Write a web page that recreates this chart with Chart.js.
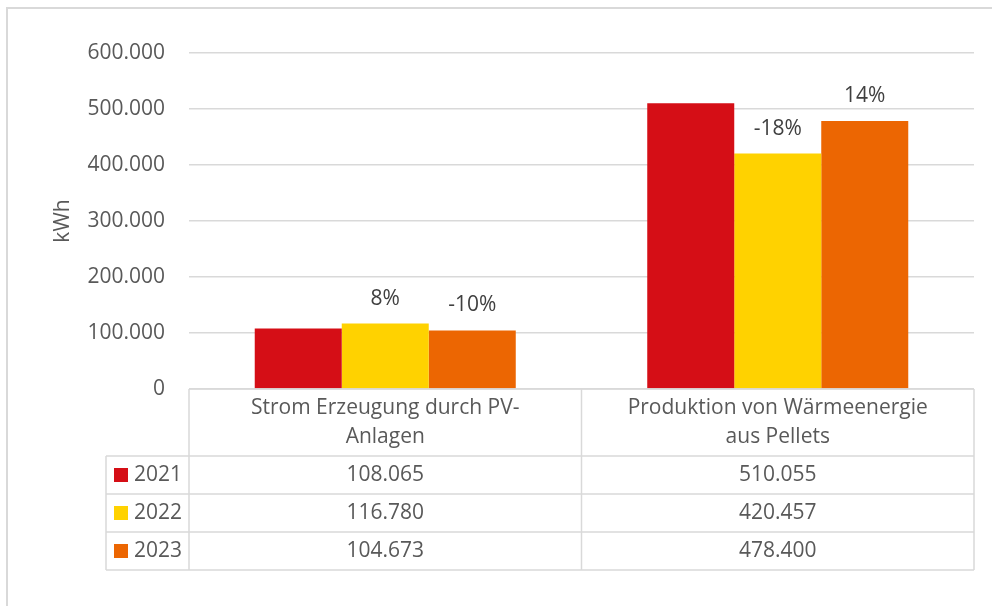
<!DOCTYPE html>
<html>
<head>
<meta charset="utf-8">
<script src="https://cdn.jsdelivr.net/npm/chart.js@4"></script>
<style>
  html, body { margin: 0; padding: 0; background: #fff; }
  #wrap { width: 992px; height: 606px; }
</style>
</head>
<body>
<div id="wrap"><canvas id="energyChart"></canvas></div>
<script>
// Data
const categories = [
    ["Strom Erzeugung durch PV-", "Anlagen"],
    ["Produktion von Wärmeenergie", "aus Pellets"]
];
const years = ["2021", "2022", "2023"];
const values2021 = [108065, 510055];
const values2022 = [116780, 420457];
const values2023 = [104673, 478400];
const changes2021 = ["", ""];
const changes2022 = ["8%", "-18%"];
const changes2023 = ["-10%", "14%"];
const yMax = 600000;
const yStep = 100000;

const colors = ["#d50e16", "#ffd200", "#ec6602"];
const textColor = "#595959";
const lineColor = "#d9d9d9";
const fontFamily = "'Open Sans', sans-serif";
const fontSize = 21;

const series = [values2021, values2022, values2023];
const changes = [changes2021, changes2022, changes2023];

function formatDe(n) {
    return String(n).replace(/\B(?=(\d{3})+(?!\d))/g, ".");
}

// outer frame of the chart
const framePlugin = {
    id: "frame",
    beforeDraw(chart) {
        const ctx = chart.ctx;
        ctx.save();
        ctx.strokeStyle = lineColor;
        ctx.lineWidth = 2;
        ctx.beginPath();
        ctx.moveTo(7, chart.height + 5);
        ctx.lineTo(7, 8);
        ctx.lineTo(chart.width + 5, 8);
        ctx.stroke();
        ctx.restore();
    }
};

// percent change labels above bars
const changeLabels = {
    id: "changeLabels",
    afterDatasetsDraw(chart) {
        const ctx = chart.ctx;
        ctx.save();
        ctx.font = fontSize + "px " + fontFamily;
        ctx.fillStyle = "#404040";
        ctx.textAlign = "center";
        ctx.textBaseline = "middle";
        chart.data.datasets.forEach((ds, i) => {
            chart.getDatasetMeta(i).data.forEach((bar, j) => {
                const txt = changes[i][j];
                if (txt) ctx.fillText(txt, bar.x, bar.y - 25);
            });
        });
        ctx.restore();
    }
};

// data table under the plot area
const dataTable = {
    id: "dataTable",
    afterDraw(chart) {
        const ctx = chart.ctx;
        const x = chart.scales.x;
        const top = chart.chartArea.bottom;
        const headH = 67;
        const rowH = 38;
        const legendLeft = 106;
        const n = categories.length;
        const catW = (x.right - x.left) / n;
        const bottom = top + headH + rowH * years.length;

        ctx.save();
        ctx.strokeStyle = lineColor;
        ctx.lineWidth = 1.5;
        ctx.beginPath();
        ctx.moveTo(x.left, top);
        ctx.lineTo(x.right, top);
        for (let r = 0; r <= years.length; r++) {
            const y = top + headH + rowH * r;
            ctx.moveTo(legendLeft, y);
            ctx.lineTo(x.right, y);
        }
        for (let c = 0; c <= n; c++) {
            const xx = x.left + catW * c;
            ctx.moveTo(xx, top);
            ctx.lineTo(xx, bottom);
        }
        ctx.moveTo(legendLeft, top + headH);
        ctx.lineTo(legendLeft, bottom);
        ctx.stroke();

        ctx.font = fontSize + "px " + fontFamily;
        ctx.fillStyle = textColor;
        ctx.textAlign = "center";
        ctx.textBaseline = "middle";
        categories.forEach((lines, c) => {
            const cx = x.left + catW * (c + 0.5);
            lines.forEach((line, k) => {
                ctx.fillText(line, cx, top + 19 + k * 29);
            });
            series.forEach((vals, r) => {
                ctx.fillText(formatDe(vals[c]), cx, top + headH + rowH * (r + 0.5));
            });
        });

        ctx.textAlign = "left";
        years.forEach((yr, r) => {
            const cy = top + headH + rowH * (r + 0.5);
            ctx.fillStyle = colors[r];
            ctx.fillRect(114, cy - 7, 14, 14);
            ctx.fillStyle = textColor;
            ctx.fillText(yr, 134, cy);
        });
        ctx.restore();
    }
};

const ctx1 = document.getElementById("energyChart");

new Chart(ctx1, {
    type: "bar",
    data: {
        labels: categories,
        datasets: years.map((yr, i) => ({
            label: yr,
            data: series[i],
            backgroundColor: colors[i],
            categoryPercentage: 0.665,
            barPercentage: 1
        }))
    },
    options: {
        responsive: true,
        maintainAspectRatio: false,
        animation: false,
        layout: {
            padding: { top: 53, right: 18, bottom: 217, left: 8 }
        },
        plugins: {
            legend: { display: false },
            tooltip: { enabled: false }
        },
        scales: {
            x: {
                display: false
            },
            y: {
                min: 0,
                max: yMax,
                afterFit(scale) {
                    scale.width = 181;
                },
                border: { display: false },
                grid: {
                    color: lineColor,
                    lineWidth: 1.5,
                    drawTicks: false
                },
                ticks: {
                    stepSize: yStep,
                    padding: 24,
                    color: textColor,
                    font: { family: fontFamily, size: fontSize },
                    callback: (v) => formatDe(v)
                },
                title: {
                    display: true,
                    text: "kWh",
                    color: textColor,
                    font: { family: fontFamily, size: fontSize },
                    padding: { top: 42, bottom: 0 }
                }
            }
        }
    },
    plugins: [framePlugin, changeLabels, dataTable]
});
</script>
</body>
</html>
